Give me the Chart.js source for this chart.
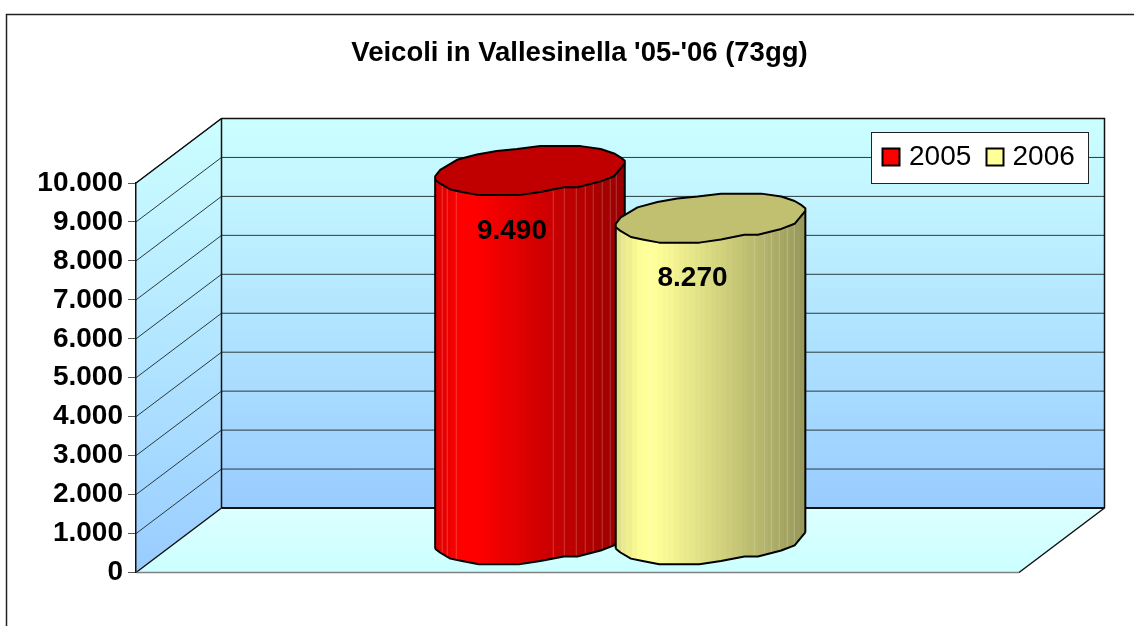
<!DOCTYPE html>
<html>
<head>
<meta charset="utf-8">
<title>Veicoli in Vallesinella</title>
<script src="https://cdn.jsdelivr.net/npm/chart.js@4/dist/chart.umd.min.js"></script>
<style>
  html, body { margin: 0; padding: 0; background: #fff; overflow: hidden; }
  canvas { display: block; }
</style>
</head>
<body>
<canvas id="myChart" width="1134" height="626"></canvas>
<script>
const categories = ["Veicoli"];
const years = ["2005", "2006"];
const values2005 = [9490];
const values2006 = [8270];
const axisMin = 0;
const axisMax = 10000;
const axisStep = 1000;
const titleText = "Veicoli in Vallesinella '05-'06 (73gg)";

const FONT = "'Liberation Sans', Arial, sans-serif";
// depth of the fake 3d box
const DX = 85.5, DY = -64.5;
// rough outline of the cylinder cap (-1..1)
const RIM = [[-1,.23],[-.947,-.03],[-.77,-.44],[-.56,-.66],[-.35,-.8],[-.136,-.88],[.11,-1],[.534,-1],[.746,-.88],[.887,-.7],[.96,-.53],[1,-.4],
             [1,-.3],[.887,.23],[.746,.44],[.5,.68],[.358,.68],[.11,.87],[-.118,1],[-.54,1],[-.717,.87],[-.84,.77],[-.95,.52],[-1,.37]];
const LOWER = 12;
const CAP_H = 24.5;
const barLooks = [
  { rgb: [255, 0, 0], cap: "#c00000", stripes: [.035,.06,.106,.62,.68,.74,.79,.83,.88,.92,.95] },
  { rgb: [255, 255, 153], cap: "#c0c070", stripes: [.03,.05,.18,.73,.78,.82,.86,.9,.94] }
];

const fmt = v => String(v).replace(/\B(?=(\d{3})+$)/g, ".");

function shade(t) {
  if (t < .12) return .88 + t;
  if (t < .2) return 1;
  return 1 - (t - .2) * .52;
}

function sideFill(ctx, bar, look) {
  const left = bar.x - bar.width / 2;
  const g = ctx.createLinearGradient(left, 0, left + bar.width, 0);
  const n = 36;
  const col = t => {
    const s = shade(t);
    const c = look.rgb.map(v => Math.round(v * s));
    return `rgb(${c[0]},${c[1]},${c[2]})`;
  };
  for (let i = 0; i < n; i++) {
    const a = i / n, b = (i + 1) / n;
    g.addColorStop(a, col(a));
    g.addColorStop(b, col(a));
  }
  return g;
}

function stripes(ctx, bar, look, top, base) {
  const left = bar.x - bar.width / 2;
  ctx.fillStyle = "rgba(255,255,255,.22)";
  look.stripes.forEach(s => ctx.fillRect(Math.round(left + s * bar.width), top, 1, base - top));
}

function rimPath(ctx, bar, y, from, to) {
  const hw = bar.width / 2;
  ctx.beginPath();
  for (let i = from; i < to; i++) {
    const px = bar.x + RIM[i][0] * hw, py = y + RIM[i][1] * CAP_H;
    if (i === from) ctx.moveTo(px, py); else ctx.lineTo(px, py);
  }
}

const box3d = {
  id: "box3d",
  afterLayout(chart) {
    chart.titleBlock.left += 2;
    chart.titleBlock.right += 2;
  },
  beforeDraw(chart) {
    const ctx = chart.ctx, a = chart.chartArea, y = chart.scales.y;
    const L = a.left, R = a.right, T = a.top, B = a.bottom;
    ctx.save();
    ctx.fillStyle = "#fff";
    ctx.fillRect(0, 0, chart.width, chart.height);

    // outer frame
    ctx.strokeStyle = "#222";
    ctx.lineWidth = 1.5;
    ctx.beginPath();
    ctx.moveTo(6.5, 640); ctx.lineTo(6.5, 14.5); ctx.lineTo(1150, 14.5);
    ctx.stroke();

    // back wall
    let g = ctx.createLinearGradient(0, T + DY, 0, B + DY);
    g.addColorStop(0, "#ccffff"); g.addColorStop(1, "#99ccff");
    ctx.fillStyle = g;
    ctx.fillRect(L + DX, T + DY, R - L, B - T);

    // side wall
    g = ctx.createLinearGradient(0, T + DY, 0, B);
    g.addColorStop(0, "#ccffff"); g.addColorStop(1, "#99ccff");
    ctx.fillStyle = g;
    ctx.beginPath();
    ctx.moveTo(L, B); ctx.lineTo(L, T); ctx.lineTo(L + DX, T + DY); ctx.lineTo(L + DX, B + DY);
    ctx.closePath(); ctx.fill();

    // floor
    g = ctx.createLinearGradient(0, B + DY, 0, B);
    g.addColorStop(0, "#ddffff"); g.addColorStop(1, "#ccffff");
    ctx.fillStyle = g;
    ctx.beginPath();
    ctx.moveTo(L, B); ctx.lineTo(L + DX, B + DY); ctx.lineTo(R + DX, B + DY); ctx.lineTo(R, B);
    ctx.closePath(); ctx.fill();

    // gridlines on both walls, from the scale's ticks
    ctx.strokeStyle = "#2b3a3a";
    ctx.lineWidth = 1;
    y.ticks.forEach(t => {
      const py = y.getPixelForValue(t.value);
      if (t.value === axisMin) return;
      ctx.beginPath();
      ctx.moveTo(L, py); ctx.lineTo(L + DX, py + DY); ctx.lineTo(R + DX, py + DY);
      ctx.stroke();
    });

    // box edges
    ctx.strokeStyle = "#111";
    ctx.lineWidth = 1.5;
    ctx.beginPath();
    ctx.moveTo(L, T); ctx.lineTo(L + DX, T + DY); ctx.lineTo(R + DX, T + DY); ctx.lineTo(R + DX, B + DY);
    ctx.moveTo(L + DX, T + DY); ctx.lineTo(L + DX, B + DY);
    ctx.moveTo(L, B); ctx.lineTo(L + DX, B + DY);
    ctx.moveTo(R, B); ctx.lineTo(R + DX, B + DY);
    ctx.stroke();
    ctx.lineWidth = 2;
    ctx.beginPath();
    ctx.moveTo(L + DX, B + DY); ctx.lineTo(R + DX, B + DY);
    ctx.stroke();
    ctx.strokeStyle = "#808080";
    ctx.lineWidth = 1.5;
    ctx.beginPath();
    ctx.moveTo(L, B); ctx.lineTo(R, B);
    ctx.stroke();

    // legend
    ctx.fillStyle = "#fff";
    ctx.strokeStyle = "#222";
    ctx.lineWidth = 1;
    ctx.fillRect(871.5, 132.5, 217, 51);
    ctx.strokeRect(871.5, 132.5, 217, 51);
    ctx.font = "28px " + FONT;
    ctx.textBaseline = "middle";
    const slots = [[882.5, 909], [986.5, 1012.5]];
    chart.data.datasets.forEach((ds, i) => {
      ctx.fillStyle = ds.backgroundColor;
      ctx.strokeStyle = "#000";
      ctx.lineWidth = 2;
      ctx.fillRect(slots[i][0], 148.5, 17, 17);
      ctx.strokeRect(slots[i][0], 148.5, 17, 17);
      ctx.fillStyle = "#000";
      ctx.fillText(ds.label, slots[i][1], 157);
    });
    ctx.restore();
  },
  beforeDatasetsDraw(chart) {
    const ctx = chart.ctx;
    // bars stand half way into the box, and 2006 has to come out on top of 2005
    chart.data.datasets.forEach((ds, i) => {
      const meta = chart.getDatasetMeta(i), bar = meta.data[0], look = barLooks[i];
      const fill = sideFill(ctx, bar, look);
      const topY = bar.y, baseY = bar.base;
      const hw = bar.width / 2;
      ctx.save();
      ctx.translate(DX / 2, DY / 2);

      // silhouette: lower edge of the top cap, then lower edge of the base
      ctx.save();
      ctx.beginPath();
      for (let k = LOWER; k < RIM.length; k++) ctx.lineTo(bar.x + RIM[k][0] * hw, topY + RIM[k][1] * CAP_H);
      for (let k = RIM.length - 1; k >= LOWER; k--) ctx.lineTo(bar.x + RIM[k][0] * hw, baseY + RIM[k][1] * CAP_H);
      ctx.closePath();
      ctx.fillStyle = fill;
      ctx.fill();
      ctx.clip();
      bar.options = Object.assign({}, bar.options, { backgroundColor: fill });
      meta.controller.draw();
      stripes(ctx, bar, look, topY - CAP_H, baseY + CAP_H);
      ctx.restore();

      ctx.lineJoin = "round";
      ctx.strokeStyle = "#000";
      ctx.lineWidth = 2;
      rimPath(ctx, bar, baseY, LOWER, RIM.length);
      ctx.stroke();
      // cylinder sides, from rim end to rim end
      const l = RIM[RIM.length - 1], r = RIM[LOWER];
      ctx.beginPath();
      ctx.moveTo(bar.x + l[0] * hw, topY + l[1] * CAP_H); ctx.lineTo(bar.x + l[0] * hw, baseY + l[1] * CAP_H);
      ctx.moveTo(bar.x + r[0] * hw, topY + r[1] * CAP_H); ctx.lineTo(bar.x + r[0] * hw, baseY + r[1] * CAP_H);
      ctx.stroke();
      rimPath(ctx, bar, topY, 0, RIM.length);
      ctx.closePath();
      ctx.fillStyle = look.cap;
      ctx.fill();
      ctx.stroke();
      ctx.restore();
    });

    // value labels
    ctx.save();
    ctx.font = "bold 28px " + FONT;
    ctx.fillStyle = "#000";
    ctx.textAlign = "center";
    ctx.textBaseline = "middle";
    chart.data.datasets.forEach((ds, i) => {
      const bar = chart.getDatasetMeta(i).data[0];
      ctx.fillText(fmt(ds.data[0]), bar.x + DX / 2 - 18, bar.y + 28);
    });
    ctx.restore();
    return false;
  }
};

const ctx = document.getElementById("myChart").getContext("2d");
new Chart(ctx, {
  type: "bar",
  data: {
    labels: categories,
    datasets: [
      { label: years[0], data: values2005, backgroundColor: "#ff0000" },
      { label: years[1], data: values2006, backgroundColor: "#ffff99" }
    ]
  },
  options: {
    responsive: false,
    animation: false,
    categoryPercentage: 0.409,
    barPercentage: 1.05,
    borderWidth: 0,
    layout: { padding: { left: 0, top: 0, right: 115, bottom: 53.5 } },
    plugins: {
      legend: { display: false },
      tooltip: { enabled: false },
      title: {
        display: true,
        text: titleText,
        color: "#000",
        fullSize: false,
        font: { family: FONT, size: 27.5, weight: "bold" },
        padding: { top: 37, bottom: 113 }
      }
    },
    scales: {
      x: { display: false },
      y: {
        min: axisMin,
        max: axisMax,
        afterFit: s => { s.width = 136; },
        border: { display: true, color: "#111", width: 1.5 },
        grid: { drawOnChartArea: false, drawTicks: true, tickLength: 8, tickColor: "#555" },
        ticks: {
          stepSize: axisStep,
          padding: 5,
          color: "#000",
          font: { family: FONT, size: 28, weight: "bold" },
          callback: v => fmt(v)
        }
      }
    }
  },
  plugins: [box3d]
});
</script>
</body>
</html>
